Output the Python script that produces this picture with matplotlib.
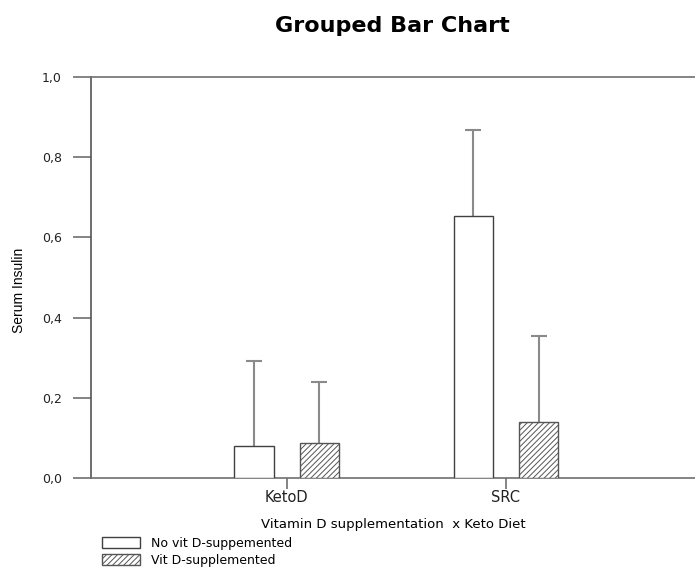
import matplotlib.pyplot as plt
import numpy as np

plt.rcParams['font.family'] = ['DejaVu Sans']
plt.rcParams['hatch.linewidth'] = 0.7

# data
categories = ["KetoD", "SRC"]
series_names = ["No vit D-suppemented", "Vit D-supplemented"]
no_vit_mean = [0.079, 0.653]
no_vit_upper = [0.293, 0.868]
vit_mean = [0.088, 0.140]
vit_upper = [0.239, 0.354]
y_ticks = [0.0, 0.2, 0.4, 0.6, 0.8, 1.0]
y_tick_labels = ["0,0", "0,2", "0,4", "0,6", "0,8", "1,0"]

edge = "#404040"
err_col = "#8a8a8a"
spine_col = "#707070"

fig = plt.figure(figsize=(6.95, 5.67), dpi=100)
ax = fig.add_axes([0.131, 0.157, 0.869, 0.707])

x = np.arange(len(categories))
w = 0.178
off = 0.149

b1 = ax.bar(x - off, no_vit_mean, w, color="white", edgecolor=edge, linewidth=1.0,
            label=series_names[0], zorder=3)
b2 = ax.bar(x + off, vit_mean, w, color="white", edgecolor="#555555", linewidth=1.0,
            hatch="//////", label=series_names[1], zorder=3)

# only the upper half of the error bars is drawn
err1 = np.array(no_vit_upper) - np.array(no_vit_mean)
err2 = np.array(vit_upper) - np.array(vit_mean)
for xs, ys, e in [(x - off, no_vit_mean, err1), (x + off, vit_mean, err2)]:
    eb = ax.errorbar(xs, ys, yerr=[np.zeros_like(e), e], fmt="none",
                     ecolor=err_col, elinewidth=1.5, capsize=6, capthick=1.5,
                     zorder=2)
    eb[1][0].set_visible(False)  # no cap at the bar top

ax.set_xlim(-0.892, 1.862)
ax.set_ylim(0, 1.0)
ax.set_yticks(y_ticks)
ax.set_yticklabels(y_tick_labels)
ax.set_xticks(x)
ax.set_xticklabels(categories)

ax.spines["right"].set_visible(False)
for s in ["left", "top", "bottom"]:
    ax.spines[s].set_color(spine_col)
    ax.spines[s].set_linewidth(1.2)
ax.spines["left"].set_color("#555555")

ax.tick_params(axis="y", length=13, width=1.2, color=spine_col, labelsize=9,
               pad=8, labelcolor="#222222")
ax.tick_params(axis="x", length=8, width=1.2, color=spine_col, labelsize=10.5,
               pad=1, labelcolor="#222222")

ax.set_ylabel("Serum Insulin", family=["Liberation Sans Narrow", "Liberation Sans"],
              fontsize=10)
ax.yaxis.set_label_coords(-0.108, 0.469)
ax.set_xlabel("Vitamin D supplementation  x Keto Diet", fontsize=9.5, labelpad=9)

fig.suptitle("Grouped Bar Chart", fontsize=16, fontweight="bold", x=0.564, y=0.972)

fig.legend(handles=[b1, b2], loc="upper left", bbox_to_anchor=(0.147, 0.053),
           frameon=False, fontsize=9, handlelength=3.0, handleheight=0.95,
           handletextpad=0.9, labelspacing=0.3, borderpad=0, borderaxespad=0)

fig.savefig("out.png", dpi=100)
